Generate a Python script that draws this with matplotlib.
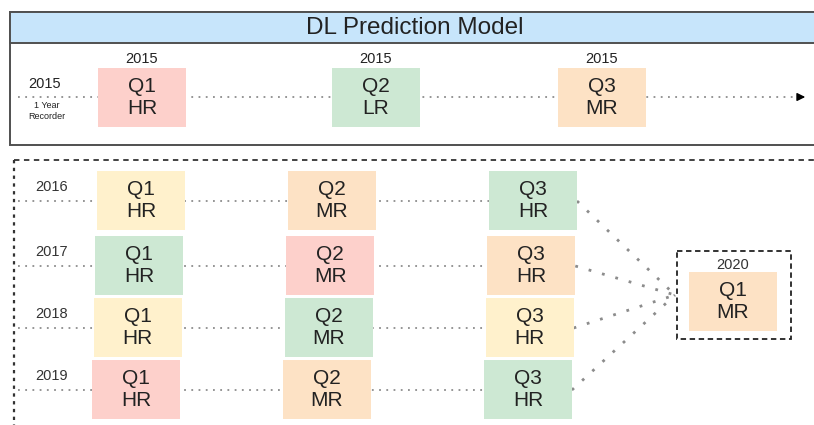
import matplotlib.pyplot as plt
from matplotlib.patches import Rectangle

plt.rcParams['font.family'] = ['Liberation Sans', 'DejaVu Sans']

# data
title = "DL Prediction Model"
top_year = "2015"
top_quarters = ["Q1", "Q2", "Q3"]
top_risk = ["HR", "LR", "MR"]
top_colors = ["pink", "green", "peach"]

years = ["2016", "2017", "2018", "2019"]
quarters = ["Q1", "Q2", "Q3"]
risk = [["HR", "MR", "HR"],
        ["HR", "MR", "HR"],
        ["HR", "MR", "HR"],
        ["HR", "MR", "HR"]]
colors = [["yellow", "peach", "green"],
          ["green", "pink", "peach"],
          ["yellow", "green", "yellow"],
          ["pink", "peach", "green"]]

target_year = "2020"
target_label = ("Q1", "MR")
target_color = "peach"

palette = {"pink": "#fdd0cb", "green": "#cde8d3",
           "peach": "#fde2c5", "yellow": "#fff1cc"}
dot_col = "#8c8c8c"
txt_col = "#222222"

fig = plt.figure(figsize=(8.14, 4.25), dpi=100)
ax = fig.add_axes([0, 0, 1, 1])
ax.set_xlim(0, 814)
ax.set_ylim(425, 0)
ax.axis("off")

BW, BH = 88, 59


def box(x, y, color, q, r):
    ax.add_patch(Rectangle((x, y), BW, BH, facecolor=palette[color],
                           edgecolor="none", zorder=3))
    ax.text(x + BW / 2, y + BH / 2, q + "\n" + r, ha="center", va="center",
            fontsize=15, color=txt_col, linespacing=1.2, zorder=4)


# ---- top panel ----
ax.add_patch(Rectangle((10, 12), 830, 133, facecolor="white",
                       edgecolor="#505050", lw=1.4, zorder=1))
ax.add_patch(Rectangle((10, 12), 830, 31, facecolor="#c7e5fb",
                       edgecolor="#505050", lw=1.4, zorder=2))
ax.text(415, 28, title, ha="center", va="center", fontsize=17.5, color=txt_col, zorder=4)

line_y = 97
ax.plot([18, 795], [line_y, line_y], ls=(0, (1, 3)), color=dot_col, lw=1.3, zorder=2)
ax.annotate("", xy=(808, line_y), xytext=(795, line_y),
            arrowprops=dict(arrowstyle="-|>", color="black", lw=1, mutation_scale=12))
ax.text(45, 84, top_year, ha="center", va="center", fontsize=10.5, color=txt_col)
ax.text(47, 111, "1 Year\nRecorder", ha="center", va="center", fontsize=6.5,
        color=txt_col, linespacing=1.2)

top_x = [98, 332, 558]
for i in range(3):
    box(top_x[i], 68, top_colors[i], top_quarters[i], top_risk[i])
    ax.text(top_x[i] + BW / 2, 59, top_year, ha="center", va="center",
            fontsize=10.5, color=txt_col)

# ---- bottom panel ----
ax.plot([14, 814], [160, 160], ls=(0, (3, 2.5)), color="#333333", lw=1.3)
ax.plot([14, 14], [160, 425], ls=(0, (1.5, 2)), color="#333333", lw=1.6)

row_y = [171, 236, 298, 360]
col_x = [97, 288, 489]
join = (675, 295)
for r in range(len(years)):
    shift = -1.7 * r
    y0 = row_y[r]
    ly = y0 + 30
    ax.text(52, y0 + 16, years[r], ha="center", va="center", fontsize=10.5, color="#333333")
    ax.plot([18, col_x[2] + BW + shift], [ly, ly], ls=(0, (1, 3)),
            color=dot_col, lw=1.3, zorder=2)
    for c in range(3):
        box(col_x[c] + shift, y0, colors[r][c], quarters[c], risk[r][c])
    ax.plot([col_x[2] + BW + shift, join[0]], [ly, join[1]], ls=(0, (1, 4)),
            color=dot_col, lw=2, zorder=2)

# target
ax.add_patch(Rectangle((677, 251), 114, 88, facecolor="white",
                       edgecolor="#222222", lw=1.3, ls=(0, (3, 2)), zorder=3))
box(689, 272, target_color, target_label[0], target_label[1])
ax.text(733, 265, target_year, ha="center", va="center", fontsize=10.5,
        color="#333333", zorder=4)

fig.savefig("out.png", dpi=100)
